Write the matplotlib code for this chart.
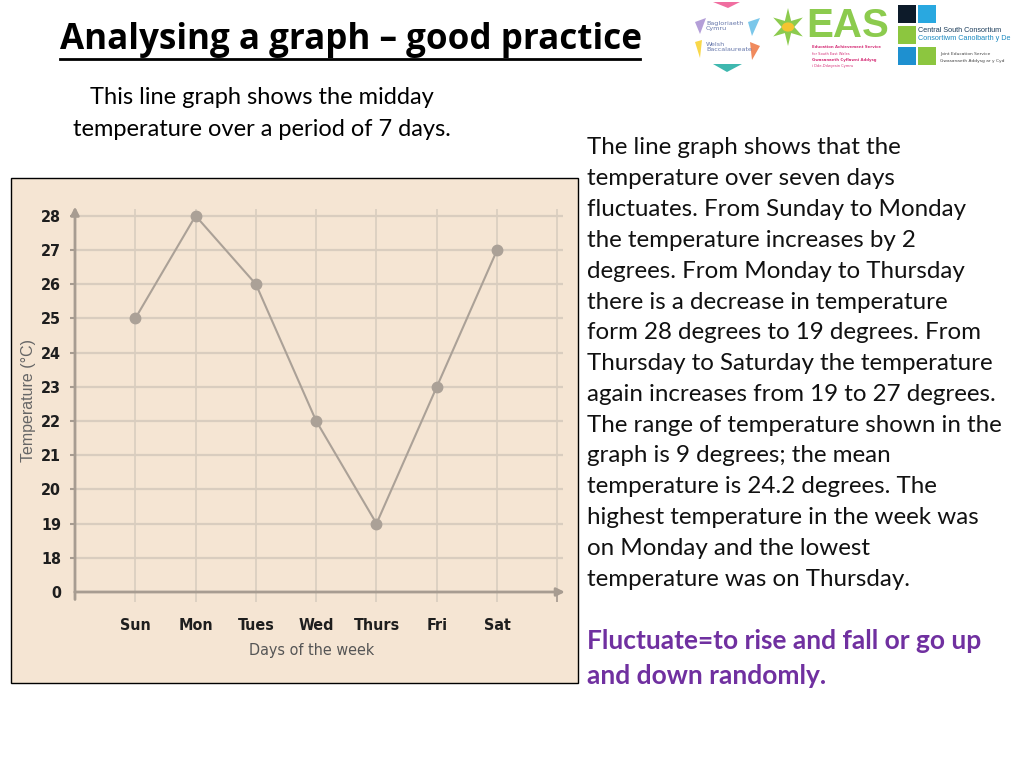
import matplotlib
matplotlib.use("Agg")
import matplotlib.pyplot as plt
from matplotlib.patches import Rectangle, Polygon
from matplotlib import font_manager
import math

days = ["Sun", "Mon", "Tues", "Wed", "Thurs", "Fri", "Sat"]
temps = [25, 28, 26, 22, 19, 23, 27]
ytick_vals = [17, 18, 19, 20, 21, 22, 23, 24, 25, 26, 27, 28]
ytick_labels = ["0", "18", "19", "20", "21", "22", "23", "24", "25", "26", "27", "28"]

body_lines = [
    "The line graph shows that the",
    "temperature over seven days",
    "fluctuates. From Sunday to Monday",
    "the temperature increases by 2",
    "degrees. From Monday to Thursday",
    "there is a decrease in temperature",
    "form 28 degrees to 19 degrees. From",
    "Thursday to Saturday the temperature",
    "again increases from 19 to 27 degrees.",
    "The range of temperature shown in the",
    "graph is 9 degrees; the mean",
    "temperature is 24.2 degrees. The",
    "highest temperature in the week was",
    "on Monday and the lowest",
    "temperature was on Thursday.",
]
def_lines = ["Fluctuate=to rise and fall or go up", "and down randomly."]

W, H = 1024, 768
fig = plt.figure(figsize=(W / 100, H / 100), dpi=100)
fig.patch.set_facecolor("white")

def fx(px):
    return px / W

def fy(py):
    return 1 - py / H

names = {f.name for f in font_manager.fontManager.ttflist}
TXT = "Lato" if "Lato" in names else "Open Sans"
has_cond = any(f.name == "DejaVu Sans" and "ondensed" in f.fname
               for f in font_manager.fontManager.ttflist)
TICKF = "DejaVu Sans" if has_cond else "Liberation Sans"
STRETCH = "condensed" if has_cond else "normal"

# title
fig.text(fx(60), fy(40), "Analysing a graph \u2013 good practice", fontsize=25.2,
         fontweight="bold", family="Open Sans", color="black", ha="left", va="center")
fig.add_artist(plt.Line2D([fx(60), fx(640)], [fy(59), fy(59)], color="black", lw=2))

# subtitle
fig.text(fx(262), fy(98), "This line graph shows the midday", fontsize=17, family=TXT,
         ha="center", va="center")
fig.text(fx(262), fy(129), "temperature over a period of 7 days.", fontsize=17, family=TXT,
         ha="center", va="center")

# body text
for i, line in enumerate(body_lines):
    fig.text(fx(587), fy(148 + i * 30.8), line, fontsize=17.4, family=TXT,
             ha="left", va="center", color="#111111")
for i, line in enumerate(def_lines):
    fig.text(fx(587), fy(641 + i * 34.5), line, fontsize=19, family=TXT,
             fontweight="bold", ha="left", va="center", color="#7030A0")

# chart panel
fig.add_artist(Rectangle((fx(11), fy(683)), fx(578) - fx(11), fy(178) - fy(683),
                         transform=fig.transFigure, facecolor="#F5E5D3",
                         edgecolor="black", lw=1.0, zorder=0))

x0, dx = 75, 60.3
y17, dy = 592, 34.2
xmax, ymax = 8.35, 28.5
axw, axh = dx * xmax, dy * (ymax - 17)
ax = fig.add_axes([fx(x0), fy(y17), axw / W, axh / H])
ax.set_facecolor("none")
ax.set_xlim(0, xmax)
ax.set_ylim(17, ymax)
for s in ax.spines.values():
    s.set_visible(False)

grid_c = "#D9CDBF"
axis_c = "#A79C91"
xs = list(range(len(days) + 2))
ax.vlines(xs[1:], 16.7, 28.2, color=grid_c, lw=1.2, zorder=1, clip_on=False)
ax.hlines(ytick_vals[1:], 0, 8.1, color=grid_c, lw=1.6, zorder=1)

# axes with arrows
ax.annotate("", xy=(8.17, 17), xytext=(-0.05, 17),
            arrowprops=dict(arrowstyle="-|>", color=axis_c, lw=2, mutation_scale=12),
            annotation_clip=False, zorder=2)
ax.annotate("", xy=(0, 28.35), xytext=(0, 16.7),
            arrowprops=dict(arrowstyle="-|>", color=axis_c, lw=2, mutation_scale=12),
            annotation_clip=False, zorder=2)
ax.hlines(ytick_vals[1:], -0.08, 0, color=axis_c, lw=1.5, zorder=2, clip_on=False)
ax.vlines([8], 16.7, 17, color=axis_c, lw=1.2, zorder=2, clip_on=False)

xpos = list(range(1, len(days) + 1))
ax.plot(xpos, temps, color="#ABA197", lw=1.5, marker="o", markersize=7.5,
        markerfacecolor="#ABA197", markeredgecolor="#ABA197", zorder=3)

ax.set_xticks(xpos)
ax.set_xticklabels(days)
ax.set_yticks(ytick_vals)
ax.set_yticklabels(ytick_labels)
for t in ax.get_xticklabels() + ax.get_yticklabels():
    t.set_fontfamily(TICKF)
    t.set_fontstretch(STRETCH)
    t.set_fontweight("bold")
    t.set_fontsize(11.5)
    t.set_color("#1E1E1E")
ax.tick_params(axis="x", length=0, pad=19)
ax.tick_params(axis="y", length=0, pad=10)
ax.set_xlabel("Days of the week", family=TICKF, fontstretch=STRETCH, fontsize=11.5,
              color="#555555")
ax.xaxis.set_label_coords((312 - x0) / axw, -(650 - 592) / axh)
ax.set_ylabel("Temperature (\u00b0C)", family="Liberation Sans", fontsize=11.5,
              color="#666666")
ax.yaxis.set_label_coords((28 - x0) / axw, (592 - 400) / axh)
ax.xaxis.label.set_va("center")
ax.yaxis.label.set_va("center")

# ---- logos (approximate) ----
# Welsh Bacc
cols = ["#F06EA0", "#7BC7EA", "#F08A5D", "#3FB8AF", "#F9D84A", "#B49FD8"]
tris = [
    [(713, 2), (740, 2), (728, 8)],
    [(748, 22), (760, 18), (752, 36)],
    [(750, 42), (760, 46), (752, 60)],
    [(713, 64), (742, 64), (727, 72)],
    [(695, 42), (702, 40), (700, 58)],
    [(695, 22), (706, 18), (700, 34)],
]
for c, tri in zip(cols, tris):
    fig.add_artist(Polygon([(fx(a), fy(b)) for a, b in tri], closed=True,
                           transform=fig.transFigure, facecolor=c, edgecolor="none"))
fig.text(fx(706), fy(26), "Bagloriaeth\nCymru", fontsize=4.6, color="#6677AA",
         ha="left", va="center", linespacing=1.1)
fig.text(fx(706), fy(47), "Welsh\nBaccalaureate", fontsize=4.6, color="#6677AA",
         ha="left", va="center", linespacing=1.1)

# EAS
fig.text(fx(806), fy(26), "EAS", fontsize=29, fontweight="bold", color="#8CCB4E",
         ha="left", va="center", family="Liberation Sans")
star = []
for k in range(12):
    r = 19 if k % 2 == 0 else 7
    a = math.pi / 2 + k * math.pi / 6
    star.append((fx(788 + r * math.cos(a) * 0.9), fy(27 - r * math.sin(a))))
fig.add_artist(Polygon(star, closed=True, transform=fig.transFigure,
                       facecolor="#8CCB4E", edgecolor="none"))
fig.add_artist(plt.Circle((fx(788), fy(27)), 0.006, transform=fig.transFigure,
                          facecolor="#F4C430", edgecolor="none"))
fig.text(fx(812), fy(47), "Education Achievement Service", fontsize=2.8, color="#D6337A",
         fontweight="bold", ha="left", va="center")
fig.text(fx(812), fy(54), "for South East Wales", fontsize=2.6, color="#D6337A",
         ha="left", va="center")
fig.text(fx(812), fy(60), "Gwasanaeth Cyflawni Addysg", fontsize=2.8, color="#D6337A",
         fontweight="bold", ha="left", va="center")
fig.text(fx(812), fy(66), "i Dde-Ddwyrain Cymru", fontsize=2.6, color="#D6337A",
         ha="left", va="center")

# CSC
sq = [((898, 5), "#0D1B2A"), ((918, 5), "#29A8E0"), ((898, 26), "#8CC63F"),
      ((898, 47), "#1E90D0"), ((918, 47), "#8CC63F")]
for (sx, sy), c in sq:
    fig.add_artist(Rectangle((fx(sx), fy(sy + 18)), 18 / W, 18 / H,
                             transform=fig.transFigure, facecolor=c, edgecolor="none"))
fig.text(fx(918), fy(30), "Central South Consortium", fontsize=5.2, color="#1B3C5A",
         ha="left", va="center", family="Liberation Sans")
fig.text(fx(918), fy(38), "Consortiwm Canolbarth y De", fontsize=5.2, color="#1B8AC0",
         ha="left", va="center", family="Liberation Sans")
fig.text(fx(940), fy(54), "Joint Education Service", fontsize=3.2, color="#444444",
         ha="left", va="center")
fig.text(fx(940), fy(61), "Gwasanaeth Addysg ar y Cyd", fontsize=3.2, color="#444444",
         ha="left", va="center")

fig.savefig("out.png", dpi=100, facecolor="white")
